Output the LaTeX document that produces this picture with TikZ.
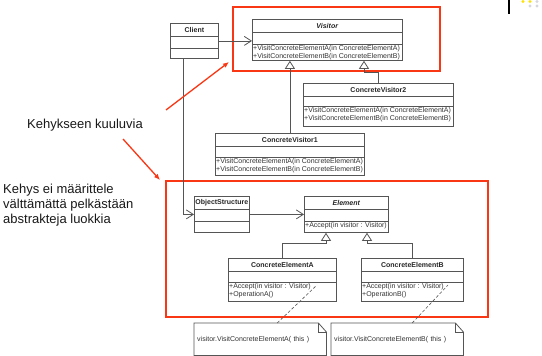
\documentclass[tikz,border=0pt]{standalone}
\usepackage{fontspec}
\setmainfont{Liberation Sans}
\usetikzlibrary{arrows.meta}
\definecolor{framered}{RGB}{250,55,20}
\definecolor{umlgray}{RGB}{85,85,85}

\begin{document}
\begin{tikzpicture}
[
  x=1pt, y=-1pt,
  classbox/.style = {draw=umlgray, line width=0.8pt, inner sep=0pt},
  namefont/.style = {font=\fontsize{7}{8}\selectfont\bfseries, text=black!85},
  opsfont/.style = {font=\fontsize{7}{8}\selectfont, text=black!80},
  desc/.style = {font=\fontsize{13}{15}\selectfont, text=black!90, inner sep=0pt},
  frame/.style = {draw=framered, line width=2.4pt},
  nav/.style = {draw=umlgray, line width=0.8pt, -{Straight Barb[length=7pt,width=9pt]}},
  inherit/.style = {draw=umlgray, line width=0.8pt, -{Triangle[open,length=8pt,width=10pt,fill=white]}},
  pointer/.style = {draw=framered, line width=1.3pt, -{Latex[length=6pt,width=5pt]}},
  notebox/.style = {inner xsep=3pt, inner ysep=0pt, text width=126pt, align=left, minimum height=32},
  notelink/.style = {draw=umlgray, dash pattern=on 3pt off 2pt, line width=0.6pt},
]
% #1 name, #2 corner, #3 width, #4 empty part, #5 methods part, #6 title, #7 methods
\def\umlclass#1#2#3#4#5#6#7{%
  \node[classbox, anchor=north west, minimum width=#3, minimum height={(13+#4+#5)*1pt}] (#1) at (#2) {};
  \node[namefont] (#1-name) at ([yshift=-6.5pt]#1.north) {#6};
  \draw[umlgray, line width=0.8pt] ([yshift=-13pt]#1.north west) -- ([yshift=-13pt]#1.north east);
  \draw[umlgray, line width=0.8pt] ([yshift={-(13+#4)*1pt}]#1.north west) -- ([yshift={-(13+#4)*1pt}]#1.north east);
  \node[opsfont, anchor=north west, align=left, inner sep=1pt] (#1-ops) at ([yshift={-(13+#4)*1pt}]#1.north west) {#7};
}

\fill[white] (0,0) rectangle (542,356);
\useasboundingbox (0,0) rectangle (542,356);

%frames
\coordinate (F1a) at (233,7); %framework, top
\coordinate (F1b) at (440,71);
\coordinate (F2a) at (166,181); %framework, bottom
\coordinate (F2b) at (488,317);
\draw[frame] (F1a) rectangle (F1b);
\draw[frame] (F2a) rectangle (F2b);

%classes
\umlclass{client}{170,23}{48}{12}{10}{Client}{}
\umlclass{visitor}{252,19}{150}{12}{16}{\textit{Visitor}}{+VisitConcreteElementA(in ConcreteElementA)\\+VisitConcreteElementB(in ConcreteElementB)}
\umlclass{cv2}{303,83}{150}{10}{20}{ConcreteVisitor2}{+VisitConcreteElementA(in ConcreteElementA)\\+VisitConcreteElementB(in ConcreteElementB)}
\umlclass{cv1}{215,133}{149}{11}{18}{ConcreteVisitor1}{+VisitConcreteElementA(in ConcreteElementA)\\+VisitConcreteElementB(in ConcreteElementB)}
\umlclass{objstruct}{194,196}{55}{12}{11}{ObjectStructure}{}
\umlclass{element}{304,196}{84}{12}{11}{\textit{Element}}{+Accept(in visitor : Visitor)}
\umlclass{cea}{228,258}{108}{11}{19}{ConcreteElementA}{+Accept(in visitor : Visitor)\\+OperationA()}
\umlclass{ceb}{361,258}{102}{11}{19}{ConcreteElementB}{+Accept(in visitor : Visitor)\\+OperationB()}

%associations
\draw[nav] (client.east) -- (client.east -| visitor.west);
\draw[nav] ([xshift=-11pt]client.south) |- (objstruct.west);
\draw[nav] (objstruct.east) -- (element.west);

%generalizations
\coordinate (cv2bend) at (364,72);
\coordinate (ceabend) at (326,243);
\coordinate (cebbend) at (367,243);
\draw[inherit] (cv1.north) -- (cv1.north |- visitor.south);
\draw[inherit] (cv2.north) |- (cv2bend) -- (cv2bend |- visitor.south);
\draw[inherit] (cea.north) |- (ceabend) -- (ceabend |- element.south);
\draw[inherit] (ceb.north) |- (cebbend) -- (cebbend |- element.south);

%notes
\node[notebox, opsfont, anchor=north west] (notea) at (194,323) {visitor.VisitConcreteElementA( this )};
\node[notebox, opsfont, anchor=north west] (noteb) at (331,323) {visitor.VisitConcreteElementB( this )};
\foreach \n in {notea,noteb}{
  \draw[umlgray, line width=0.8pt] (\n.north west) -- ([xshift=-8pt]\n.north east)
    -- ([yshift=-9pt]\n.north east) -- (\n.south east) -- (\n.south west) -- cycle;
  \draw[umlgray, line width=0.6pt] ([xshift=-8pt]\n.north east) |- ([yshift=-9pt]\n.north east);
}
\coordinate (cealink) at (317,285);
\coordinate (ceblink) at (448,285);
\draw[notelink] ([xshift=17pt]notea.north) -- (cealink);
\draw[notelink] ([xshift=15pt]noteb.north) -- (ceblink);

%captions
\node[desc, anchor=west] (inframe) at (27,125) {Kehykseen kuuluvia};
\node[desc, anchor=west, align=left] (notabstract) at (3,205)
  {Kehys ei määrittele\\välttämättä pelkästään\\abstrakteja luokkia};
\coordinate (p1s) at (166,110);
\coordinate (p1e) at (229,62);
\coordinate (p2s) at (123,139);
\coordinate (p2e) at (160,180);
\draw[pointer] (p1s) -- (p1e);
\draw[pointer] (p2s) -- (p2e);

%logo corner
\draw[black, line width=1.2pt] (509,0) -- (509,14);
\fill[yellow!85!orange] (523,1.5) circle (1.6pt) (530,1.5) circle (1.6pt);
\fill[blue!10!gray!30] (537,1.5) circle (1.6pt) (530,6) circle (1.6pt) (537,6) circle (1.6pt);
\end{tikzpicture}
\end{document}
